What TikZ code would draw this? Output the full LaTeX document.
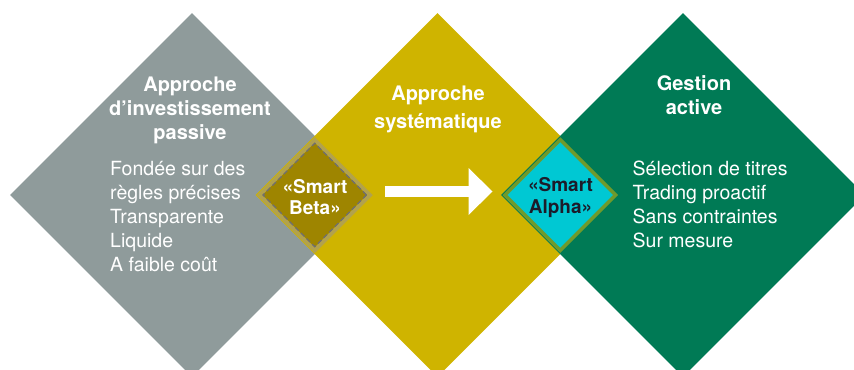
\documentclass[tikz,border=0pt]{standalone}
\usepackage{fontspec}
\setmainfont{TeX Gyre Heros}
\usetikzlibrary{shapes.geometric, arrows.meta}

\definecolor{passivegray}{HTML}{8F9B9B}
\definecolor{systyellow}{HTML}{CFB400}
\definecolor{activegreen}{HTML}{007A55}
\definecolor{betafill}{HTML}{9E8500}
\definecolor{betaedge}{HTML}{B2A24C}
\definecolor{betadash}{HTML}{6E6E72}
\definecolor{alphafill}{HTML}{00C8D3}
\definecolor{alphaedge}{HTML}{6F9A2C}
\definecolor{alphatext}{HTML}{1C1C2A}

\begin{document}
\begin{tikzpicture}[
	x = 1bp, y = -1bp,
	big/.style = {diamond, draw=none, inner sep=0pt,
		minimum width=364bp, minimum height=364bp},
	small/.style = {diamond, inner sep=0pt,
		minimum width=112bp, minimum height=112bp},
	title/.style = {text=white, align=center,
		font=\bfseries\fontsize{20bp}{24bp}\selectfont},
	body/.style = {text=white, align=left, anchor=west, inner sep=0pt,
		font=\fontsize{19.5bp}{24bp}\selectfont},
	tag/.style = {align=center, inner sep=0pt,
		font=\bfseries\fontsize{19bp}{21bp}\selectfont},
	bigarrow/.style = {white, line width=10.5bp,
		-{Triangle[length=24bp, width=47bp, line width=0pt]},
		shorten <=12bp, shorten >=10bp},
	]
	\useasboundingbox (0,0) rectangle (854,369);
	\clip (0,0) rectangle (854,369);
	% the three approaches
	\foreach \c/\x/\n in {passivegray/192/passive, systyellow/437.5/syst, activegreen/683/active}
		\node[big, fill=\c] (\n) at (\x,195) {};
	% overlaps
	\node[small, fill=betafill, draw=betaedge, line width=4bp] (beta) at (314.75,195) {};
	\node[small, minimum width=104bp, minimum height=104bp,
		draw=betadash, line width=1.2bp, dash pattern=on 5bp off 3bp] (betaline) at (beta) {};
	\node[small, fill=alphafill, draw=alphaedge, line width=3.5bp] (alpha) at (560.25,195) {};
	\node[tag, text=white] (betalabel) at (315,197.5) {«Smart\\Beta»};
	\node[tag, text=alphatext, font=\bfseries\fontsize{19bp}{22bp}\selectfont] (alphalabel) at (560.5,198) {«Smart\\Alpha»};
	\draw[bigarrow] ([yshift=3.5bp]beta.east) -- ([yshift=3.5bp]alpha.west);
	% titles
	\node[title] (passivetitle) at (190,110) {Approche\\d’investissement\\passive};
	\node[title, font=\bfseries\fontsize{20bp}{28bp}\selectfont] (systtitle) at (438,109.25) {Approche\\systématique};
	\node[title] (activetitle) at (694,95.5) {Gestion\\active};
	% lists
	\node[body] (passivelist) at (110,217) {Fondée sur des\\règles précises\\Transparente\\Liquide\\A faible coût};
	\node[body] (activelist) at (632.5,204.5) {Sélection de titres\\Trading proactif\\Sans contraintes\\Sur mesure};
\end{tikzpicture}
\end{document}
